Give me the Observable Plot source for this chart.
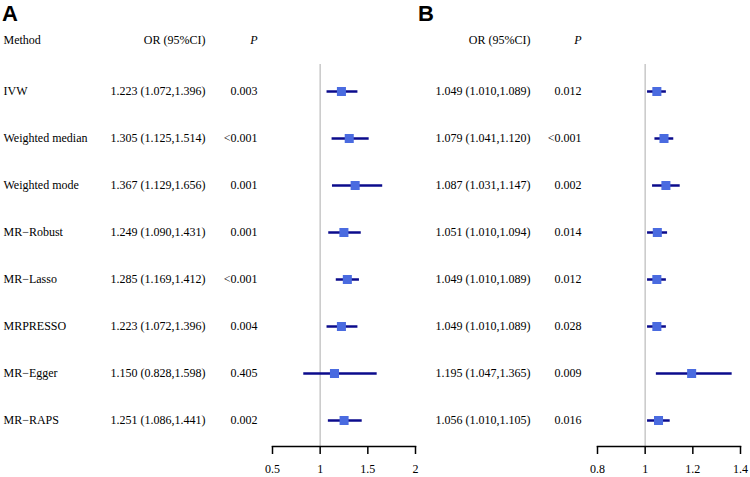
<!DOCTYPE html>
<html>
<head>
<meta charset="utf-8">
<script src="https://cdn.jsdelivr.net/npm/d3@7"></script>
<script src="https://cdn.jsdelivr.net/npm/@observablehq/plot@0.6"></script>
<style>
  html, body { margin: 0; padding: 0; background: white; }
  #wrap { position: relative; width: 750px; height: 477px; overflow: hidden; }
  .panel { position: absolute; top: 0; }
  .lbl { position: absolute; font-family: "Liberation Sans", Arial, sans-serif; font-weight: bold; font-size: 22px; line-height: 1; }
</style>
</head>
<body>
<div id="wrap">
  <div class="lbl" style="left:2px; top:3px;">A</div>
  <div class="lbl" style="left:418px; top:3px;">B</div>
  <div id="pa" class="panel" style="left:0px;"></div>
  <div id="pb" class="panel" style="left:420px;"></div>
</div>
<script>
const methods = ["IVW", "Weighted median", "Weighted mode", "MR\u2212Robust", "MR\u2212Lasso", "MRPRESSO", "MR\u2212Egger", "MR\u2212RAPS"];

const orA = [1.223, 1.305, 1.367, 1.249, 1.285, 1.223, 1.150, 1.251];
const loA = [1.072, 1.125, 1.129, 1.090, 1.169, 1.072, 0.828, 1.086];
const hiA = [1.396, 1.514, 1.656, 1.431, 1.412, 1.396, 1.598, 1.441];
const pA  = ["0.003", "<0.001", "0.001", "0.001", "<0.001", "0.004", "0.405", "0.002"];

const orB = [1.049, 1.079, 1.087, 1.051, 1.049, 1.049, 1.195, 1.056];
const loB = [1.010, 1.041, 1.031, 1.010, 1.010, 1.010, 1.047, 1.010];
const hiB = [1.089, 1.120, 1.147, 1.094, 1.089, 1.089, 1.365, 1.105];
const pB  = ["0.012", "<0.001", "0.002", "0.014", "0.012", "0.028", "0.009", "0.016"];

const ticksA = [0.5, 1, 1.5, 2];
const ticksB = [0.8, 1, 1.2, 1.4];

const fmt = v => v.toFixed(3);

function build(or, lo, hi, p) {
  return methods.map((m, i) => ({
    method: m, or: or[i], lo: lo[i], hi: hi[i], p: p[i],
    label: `${fmt(or[i])} (${fmt(lo[i])},${fmt(hi[i])})`
  }));
}

const serif = "'Liberation Serif', 'Times New Roman', Times, serif";

function panel({data, ticks, width, marginLeft, marginRight, showMethod, dxMethod, dxOR, dxP}) {
  const txt = {fontFamily: serif, fontSize: 12, fill: "black"};
  const header = [{}];
  const marks = [
    Plot.ruleX([1], {stroke: "#c8c8c8", strokeWidth: 1.5}),
    Plot.ruleY(data, {y: "method", x1: "lo", x2: "hi", stroke: "#0b0b8c", strokeWidth: 2.5}),
    Plot.dot(data, {y: "method", x: "or", symbol: "square", r: 5.1, fill: "#4a6be0", stroke: "none"}),
    Plot.frame({anchor: "bottom", stroke: "black", strokeWidth: 1.5}),
    Plot.axisX({ticks, tickSize: 8, tickPadding: 10, tickFormat: d => `${d}`, strokeWidth: 1.5, stroke: "black",
                fontFamily: serif, fontSize: 12, label: null, color: "black"}),
    Plot.text(data, {y: "method", text: "label", frameAnchor: "left", dx: dxOR, textAnchor: "end", ...txt}),
    Plot.text(data, {y: "method", text: "p", frameAnchor: "left", dx: dxP, textAnchor: "end", ...txt}),
    Plot.text(header, {text: () => "OR (95%CI)", frameAnchor: "top-left", dx: dxOR, dy: -24, textAnchor: "end", lineAnchor: "middle", ...txt}),
    Plot.text(header, {text: () => "P", frameAnchor: "top-left", dx: dxP, dy: -24, textAnchor: "end", lineAnchor: "middle", fontStyle: "italic", ...txt})
  ];
  if (showMethod) {
    marks.push(Plot.text(data, {y: "method", text: "method", frameAnchor: "left", dx: dxMethod, textAnchor: "start", ...txt}));
    marks.push(Plot.text(header, {text: () => "Method", frameAnchor: "top-left", dx: dxMethod, dy: -24, textAnchor: "start", lineAnchor: "middle", ...txt}));
  }
  return Plot.plot({
    width, height: 477,
    marginLeft, marginRight, marginTop: 64, marginBottom: 31,
    style: {background: "transparent", overflow: "visible", fontFamily: serif, fontSize: "12px", color: "black"},
    x: {domain: [ticks[0], ticks[ticks.length - 1]], axis: null},
    y: {type: "point", domain: methods, padding: 0.5, axis: null},
    marks
  });
}

document.getElementById("pa").appendChild(panel({
  data: build(orA, loA, hiA, pA), ticks: ticksA,
  width: 420, marginLeft: 272, marginRight: 5,
  showMethod: true, dxMethod: -269, dxOR: -67, dxP: -15
}));

document.getElementById("pb").appendChild(panel({
  data: build(orB, loB, hiB, pB), ticks: ticksB,
  width: 330, marginLeft: 177, marginRight: 10,
  showMethod: false, dxMethod: 0, dxOR: -67, dxP: -16
}));
</script>
</body>
</html>
